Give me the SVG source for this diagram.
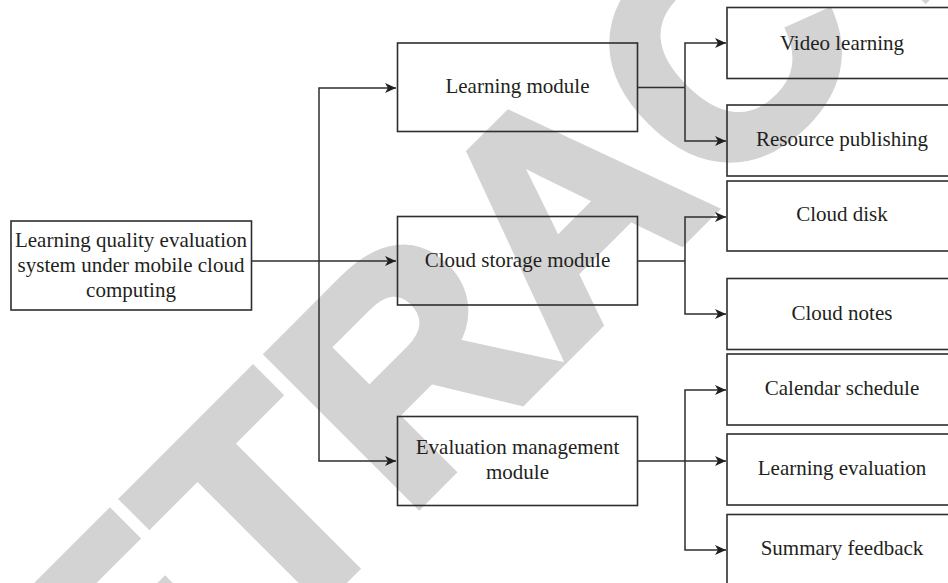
<svg xmlns="http://www.w3.org/2000/svg" width="948" height="583" viewBox="0 0 948 583">
<style>
.box{fill:none;stroke:#2e2e2e;stroke-width:1.6}
.lbl{font-family:"Liberation Serif","Times New Roman",serif;font-size:21px;fill:#231f20;text-anchor:middle}
.con{fill:none;stroke:#2e2e2e;stroke-width:1.5}
.wm{font-family:"Liberation Sans",Arial,sans-serif;font-weight:bold;font-size:307px;fill:#d3d3d3;stroke:#d3d3d3;stroke-width:10;stroke-linejoin:miter}
</style>
<defs>
<marker id="arr" markerUnits="userSpaceOnUse" markerWidth="12" markerHeight="10" refX="11" refY="5" orient="auto">
<path d="M0,0 L11,5 L0,10 L3,5 z" fill="#1f1f1f"/>
</marker>
</defs>
<rect width="948" height="583" fill="#ffffff"/>
<text class="wm" x="-29.5" y="952.3" transform="rotate(-45 -29.5 952.3)">RETRACTED</text>
<g id="connectors">
<path class="con" d="M251,261 H396" marker-end="url(#arr)"/>
<path class="con" d="M319,261 V88 H396" marker-end="url(#arr)"/>
<path class="con" d="M319,261 V461 H396" marker-end="url(#arr)"/>
<path class="con" d="M638,87.5 H685"/>
<path class="con" d="M685,87.5 V43 H726" marker-end="url(#arr)"/>
<path class="con" d="M685,87.5 V141 H726" marker-end="url(#arr)"/>
<path class="con" d="M638,261 H685"/>
<path class="con" d="M685,261 V217 H726" marker-end="url(#arr)"/>
<path class="con" d="M685,261 V314 H726" marker-end="url(#arr)"/>
<path class="con" d="M638,461 H726" marker-end="url(#arr)"/>
<path class="con" d="M685,461 V390 H726" marker-end="url(#arr)"/>
<path class="con" d="M685,461 V550 H726" marker-end="url(#arr)"/>
</g>
<g id="root">
<rect class="box" x="11" y="221" width="240.5" height="89"/>
<text class="lbl" x="131" y="247">Learning quality evaluation</text>
<text class="lbl" x="131" y="272">system under mobile cloud</text>
<text class="lbl" x="131" y="297">computing</text>
</g>
<g id="learning-module">
<rect class="box" x="397.5" y="43" width="240" height="88.5"/>
<text class="lbl" x="517.5" y="93">Learning module</text>
</g>
<g id="cloud-storage-module">
<rect class="box" x="397.5" y="216.5" width="240" height="88.5"/>
<text class="lbl" x="517.5" y="266.5">Cloud storage module</text>
</g>
<g id="evaluation-management-module">
<rect class="box" x="397.5" y="416.5" width="240" height="89"/>
<text class="lbl" x="517.5" y="453.5">Evaluation management</text>
<text class="lbl" x="517.5" y="478.5">module</text>
</g>
<g id="video-learning">
<rect class="box" x="727" y="7.5" width="231" height="71"/>
<text class="lbl" x="842" y="49.5">Video learning</text>
</g>
<g id="resource-publishing">
<rect class="box" x="727" y="105" width="231" height="71"/>
<text class="lbl" x="842" y="146">Resource publishing</text>
</g>
<g id="cloud-disk">
<rect class="box" x="727" y="181" width="231" height="70"/>
<text class="lbl" x="842" y="221">Cloud disk</text>
</g>
<g id="cloud-notes">
<rect class="box" x="727" y="278.5" width="231" height="71"/>
<text class="lbl" x="842" y="319.5">Cloud notes</text>
</g>
<g id="calendar-schedule">
<rect class="box" x="727" y="354" width="231" height="71"/>
<text class="lbl" x="842" y="395">Calendar schedule</text>
</g>
<g id="learning-evaluation">
<rect class="box" x="727" y="434" width="231" height="71"/>
<text class="lbl" x="842" y="475">Learning evaluation</text>
</g>
<g id="summary-feedback">
<rect class="box" x="727" y="514.5" width="231" height="71"/>
<text class="lbl" x="842" y="555">Summary feedback</text>
</g>
</svg>
